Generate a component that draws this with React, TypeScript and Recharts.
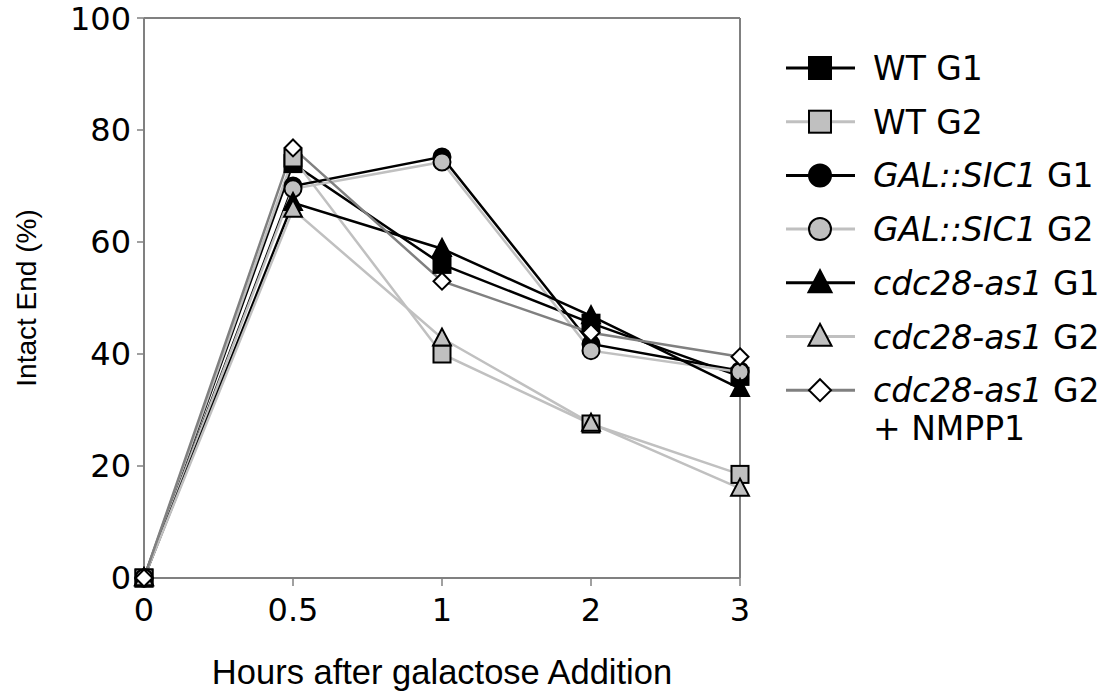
import React from "react";
import { Legend, Line, LineChart, ReferenceLine, XAxis, YAxis } from "recharts";

// hours after galactose addition (categories, evenly spaced like the original)
const HOURS = ["0", "0.5", "1", "2", "3"];
const Y_TICKS = [0, 20, 40, 60, 80, 100];

// intact end (%) per series
const WT_G1 = [0, 74, 56, 45.5, 36];
const WT_G2 = [0, 75, 40, 27.5, 18.5];
const SIC1_G1 = [0, 70, 75.2, 41.8, 37];
const SIC1_G2 = [0, 69.5, 74.3, 40.6, 36.8];
const CDC_G1 = [0, 67, 58.8, 46.8, 33.8];
const CDC_G2 = [0, 65.8, 42.8, 27.6, 16];
const CDC_G2_NMPP1 = [0, 76.8, 53, 43.8, 39.5];

type Shape = "square" | "circle" | "triangle" | "diamond";

const SERIES: {
  key: string;
  italic: string;
  plain: string;
  values: number[];
  line: string;
  fill: string;
  shape: Shape;
}[] = [
  { key: "wtG1", italic: "", plain: "WT G1", values: WT_G1, line: "#000000", fill: "#000000", shape: "square" },
  { key: "wtG2", italic: "", plain: "WT G2", values: WT_G2, line: "#c0c0c0", fill: "#c0c0c0", shape: "square" },
  { key: "sicG1", italic: "GAL::SIC1", plain: " G1", values: SIC1_G1, line: "#000000", fill: "#000000", shape: "circle" },
  { key: "sicG2", italic: "GAL::SIC1", plain: " G2", values: SIC1_G2, line: "#c0c0c0", fill: "#c0c0c0", shape: "circle" },
  { key: "cdcG1", italic: "cdc28-as1", plain: " G1", values: CDC_G1, line: "#000000", fill: "#000000", shape: "triangle" },
  { key: "cdcG2", italic: "cdc28-as1", plain: " G2", values: CDC_G2, line: "#c0c0c0", fill: "#c0c0c0", shape: "triangle" },
  { key: "cdcN", italic: "cdc28-as1", plain: " G2", values: CDC_G2_NMPP1, line: "#808080", fill: "#ffffff", shape: "diamond" },
];

const data = HOURS.map((h, i) => {
  const row: Record<string, any> = { hour: h };
  SERIES.forEach((s) => (row[s.key] = s.values[i]));
  return row;
});

const TICK_FONT = "'DejaVu Sans', Verdana, sans-serif";
const TITLE_FONT = "'Liberation Sans', Arial, sans-serif";

function Marker({ shape, cx, cy, size, fill }: { shape: Shape; cx: number; cy: number; size: number; fill: string }) {
  const h = size / 2;
  const common = { fill, stroke: "#000", strokeWidth: 2 };
  if (shape === "square") return <rect x={cx - h} y={cy - h} width={size} height={size} {...common} />;
  if (shape === "circle") return <circle cx={cx} cy={cy} r={h} {...common} />;
  if (shape === "triangle")
    return <polygon points={`${cx},${cy - h * 1.15} ${cx - h * 1.05},${cy + h * 0.85} ${cx + h * 1.05},${cy + h * 0.85}`} {...common} />;
  return <polygon points={`${cx},${cy - h} ${cx + h},${cy} ${cx},${cy + h} ${cx - h},${cy}`} {...common} />;
}

const makeDot = (shape: Shape, fill: string) => (props: any) => {
  const { cx, cy, index } = props;
  if (cx == null || cy == null) return <g key={index} />;
  return (
    <g key={index}>
      <Marker shape={shape} cx={cx} cy={cy} size={17} fill={fill} />
    </g>
  );
};

// legend keeps the series order (recharts would sort it by name)
function LegendBox() {
  const rowH = 53.7;
  return (
    <svg width={330} height={430}>
      {SERIES.map((s, i) => {
        const y = 28 + i * rowH;
        return (
          <g key={s.key}>
            <line x1={6} x2={75} y1={y} y2={y} stroke={s.line} strokeWidth={3} />
            <Marker shape={s.shape} cx={40} cy={y} size={22} fill={s.fill} />
            <text x={93} y={y + 12} fontSize={33} fontFamily={TICK_FONT} fill="#000">
              {s.italic && <tspan fontStyle="italic">{s.italic}</tspan>}
              <tspan>{s.plain}</tspan>
            </text>
          </g>
        );
      })}
      <text x={93} y={28 + 6.7 * rowH + 12} fontSize={33} fontFamily={TICK_FONT} fill="#000">
        + NMPP1
      </text>
    </svg>
  );
}

export default function App() {
  return (
    <div style={{ position: "absolute", left: 0, top: 0, background: "#fff" }}>
      <LineChart width={1114} height={698} data={data} margin={{ top: 18, right: 374, bottom: 10, left: 0 }}>
        <XAxis
          dataKey="hour"
          height={110}
          axisLine={{ stroke: "#808080", strokeWidth: 2 }}
          tickLine={{ stroke: "#808080", strokeWidth: 1.5 }}
          tickSize={8}
          tickMargin={12}
          tick={{ fill: "#000", fontSize: 32, fontFamily: TICK_FONT }}
          label={{
            value: "Hours after galactose Addition",
            position: "insideBottom",
            offset: 4,
            style: { fill: "#000", fontSize: 34.5, fontFamily: TITLE_FONT },
          }}
        />
        <YAxis
          type="number"
          domain={[0, 100]}
          ticks={Y_TICKS}
          width={144}
          axisLine={{ stroke: "#808080", strokeWidth: 2 }}
          tickLine={{ stroke: "#808080", strokeWidth: 1.5 }}
          tickSize={7}
          tickMargin={6}
          tick={{ fill: "#000", fontSize: 32, fontFamily: TICK_FONT }}
          label={{
            value: "Intact End (%)",
            angle: -90,
            position: "insideLeft",
            offset: 26,
            style: { textAnchor: "middle", fill: "#000", fontSize: 28, fontFamily: TITLE_FONT },
          }}
        />
        <ReferenceLine y={100} stroke="#808080" strokeWidth={2} />
        <ReferenceLine x="3" stroke="#808080" strokeWidth={2} />
        <Legend
          layout="vertical"
          align="center"
          verticalAlign="middle"
          content={<LegendBox />}
          wrapperStyle={{ left: 780, top: 40, width: 330, height: 430 }}
        />
        {SERIES.map((s) => (
          <Line
            key={s.key}
            dataKey={s.key}
            name={s.italic + s.plain}
            type="linear"
            stroke={s.line}
            strokeWidth={2.5}
            dot={makeDot(s.shape, s.fill)}
            activeDot={false}
            isAnimationActive={false}
          />
        ))}
      </LineChart>
    </div>
  );
}
